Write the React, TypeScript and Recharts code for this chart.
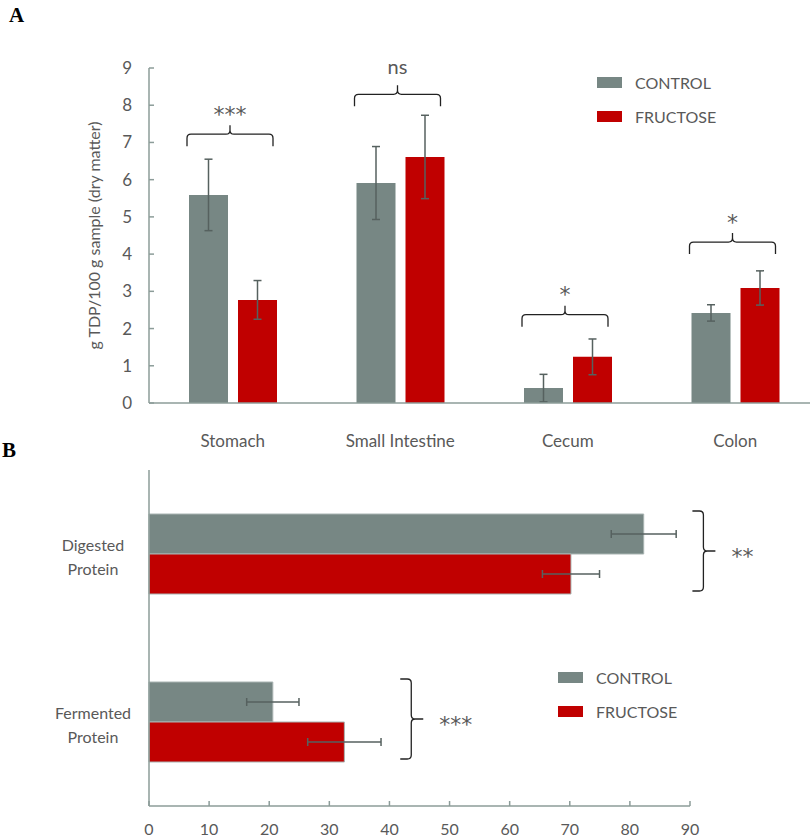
import React from "react";
import { Bar, BarChart, ErrorBar, Legend, Rectangle, XAxis, YAxis } from "recharts";

// panel A: TDP per gut segment
const regions = ["Stomach", "Small Intestine", "Cecum", "Colon"];
const controlA = [5.59, 5.91, 0.4, 2.42];
const controlErrA = [0.96, 0.98, 0.37, 0.22];
const fructoseA = [2.77, 6.61, 1.24, 3.09];
const fructoseErrA = [0.52, 1.12, 0.48, 0.46];
const braceA = [6.9, 7.97, 2.05, 4.0];
const markA = ["***", "ns", "*", "*"];
const ticksA = [0, 1, 2, 3, 4, 5, 6, 7, 8, 9];

// panel B: digested vs fermented protein
const proteins = ["Digested Protein", "Fermented Protein"];
const controlB = [82.3, 20.6];
const controlErrB = [5.4, 4.35];
const fructoseB = [70.2, 32.5];
const fructoseErrB = [4.75, 6.1];
const braceB = [90.4, 41.8];
const markB = ["**", "***"];
const ticksB = [0, 10, 20, 30, 40, 50, 60, 70, 80, 90];

const GREY = "#778784";
const RED = "#c00000";
const AXIS = "#8c9c99";
const ERR = "#56615f";
const TEXT = "#595959";
const FONT = "Lato, 'Open Sans', sans-serif";
const STAR_FONT = "'DejaVu Sans', sans-serif";

const dataA = regions.map((name, i) => ({
  name,
  control: controlA[i],
  controlErr: controlErrA[i],
  fructose: fructoseA[i],
  fructoseErr: fructoseErrA[i],
}));

const dataB = proteins.map((name, i) => ({
  name,
  control: controlB[i],
  controlErr: controlErrB[i],
  fructose: fructoseB[i],
  fructoseErr: fructoseErrB[i],
}));

function isStars(s: string) {
  return s.indexOf("*") >= 0;
}

// fructose bar of panel A, plus the brace over the pair
const FructoseWithBrace = (props: any) => {
  const { x, y, width, height, index } = props;
  const perUnit = height / fructoseA[index];
  const yb = y + height - braceA[index] * perUnit;
  const x1 = x - width - 10 - 2;
  const x2 = x + width - 4;
  const cx = (x1 + x2) / 2;
  const ym = yb - 12;
  const yp = ym - 9;
  const r = 4;
  const d =
    `M${x1},${yb} L${x1},${ym + r} Q${x1},${ym} ${x1 + r},${ym} ` +
    `L${cx - r},${ym} Q${cx},${ym} ${cx},${ym - r} L${cx},${yp} L${cx},${ym - r} ` +
    `Q${cx},${ym} ${cx + r},${ym} L${x2 - r},${ym} Q${x2},${ym} ${x2},${ym + r} L${x2},${yb}`;
  const mark = markA[index];
  const stars = isStars(mark);
  return (
    <g>
      <Rectangle {...props} />
      <path d={d} fill="none" stroke="#222" strokeWidth={1.3} />
      <text
        x={cx}
        y={stars ? yp - 3.5 : yp - 11.5}
        textAnchor="middle"
        fill={TEXT}
        fontSize={stars ? 22 : 20}
        fontFamily={stars ? STAR_FONT : FONT}
      >
        {mark}
      </text>
    </g>
  );
};

// control bar of panel B, plus the brace beside the pair
const ControlWithBrace = (props: any) => {
  const { x, y, width, height, index } = props;
  const perUnit = width / controlB[index];
  const x0 = x + braceB[index] * perUnit;
  const y1 = y - 3;
  const y2 = y + 2 * height - 3;
  const yc = (y1 + y2) / 2;
  const xm = x0 + 11;
  const xp = xm + 12;
  const r = 4;
  const d =
    `M${x0},${y1} L${xm - r},${y1} Q${xm},${y1} ${xm},${y1 + r} ` +
    `L${xm},${yc - r} Q${xm},${yc} ${xm + r},${yc} L${xp},${yc} L${xm + r},${yc} ` +
    `Q${xm},${yc} ${xm},${yc + r} L${xm},${y2 - r} Q${xm},${y2} ${xm - r},${y2} L${x0},${y2}`;
  return (
    <g>
      <Rectangle {...props} />
      <path d={d} fill="none" stroke="#222" strokeWidth={1.3} />
      <text x={xp + 16} y={yc + 13} fill={TEXT} fontSize={22} fontFamily={STAR_FONT}>
        {markB[index]}
      </text>
    </g>
  );
};

const LegendBoxes = ({ payload }: any) => (
  <div>
    {(payload || []).map((p: any) => (
      <div key={p.value} style={{ display: "flex", alignItems: "center", height: 34 }}>
        <span
          style={{ display: "inline-block", width: 25, height: 11, background: p.color, marginRight: 13 }}
        />
        <span style={{ color: TEXT, fontSize: 16 }}>{p.value}</span>
      </div>
    ))}
  </div>
);

const ProteinTick = ({ x, y, payload }: any) => {
  const [first, second] = String(payload.value).split(" ");
  const cx = x - 48;
  return (
    <text x={cx} y={y} textAnchor="middle" fill={TEXT} fontSize={16}>
      <tspan x={cx} dy={-3}>{first}</tspan>
      <tspan x={cx} dy={24}>{second}</tspan>
    </text>
  );
};

const panelLetter: React.CSSProperties = {
  position: "absolute",
  fontFamily: "'Liberation Serif', 'Times New Roman', serif",
  fontWeight: "bold",
  fontSize: 21,
  lineHeight: "21px",
  color: "#000",
};

export default function App() {
  return (
    <div
      style={{
        position: "absolute",
        left: 0,
        top: 0,
        width: 810,
        height: 839,
        overflow: "hidden",
        background: "#fff",
        fontFamily: FONT,
      }}
    >
      <div style={{ ...panelLetter, left: 9, top: 5 }}>A</div>
      <div style={{ ...panelLetter, left: 2, top: 440 }}>B</div>

      <div style={{ position: "absolute", left: 0, top: 0 }}>
        <BarChart
          width={820}
          height={465}
          data={dataA}
          margin={{ top: 68, right: 1, bottom: 0, left: 89 }}
          barCategoryGap={40}
          barGap={10}
        >
          <XAxis
            dataKey="name"
            interval={0}
            height={62}
            tickLine={false}
            tickSize={0}
            tickMargin={32}
            axisLine={{ stroke: AXIS, strokeWidth: 1.5 }}
            tick={{ fill: TEXT, fontSize: 17 }}
          />
          <YAxis
            domain={[0, 9]}
            ticks={ticksA}
            width={60}
            tickSize={-5}
            tickMargin={22}
            axisLine={{ stroke: AXIS, strokeWidth: 1.5 }}
            tickLine={{ stroke: AXIS, strokeWidth: 1.5 }}
            tick={{ fill: TEXT, fontSize: 17 }}
            label={{
              value: "g TDP/100 g sample (dry matter)",
              angle: -90,
              position: "insideLeft",
              offset: 5,
              style: { textAnchor: "middle", fill: TEXT, fontSize: 16 },
            }}
          />
          <Legend
            layout="vertical"
            align="center"
            verticalAlign="middle"
            content={<LegendBoxes />}
            wrapperStyle={{ top: 65, left: 597, width: "auto", height: "auto" }}
          />
          <Bar dataKey="control" name="CONTROL" fill={GREY} legendType="rect" isAnimationActive={false}>
            <ErrorBar dataKey="controlErr" direction="y" width={4} stroke={ERR} strokeWidth={1.5} isAnimationActive={false} />
          </Bar>
          <Bar
            dataKey="fructose"
            name="FRUCTOSE"
            fill={RED}
            legendType="rect"
            shape={FructoseWithBrace}
            isAnimationActive={false}
          >
            <ErrorBar dataKey="fructoseErr" direction="y" width={4} stroke={ERR} strokeWidth={1.5} isAnimationActive={false} />
          </Bar>
        </BarChart>
      </div>

      <div style={{ position: "absolute", left: 0, top: 460 }}>
        <BarChart
          layout="vertical"
          width={820}
          height={379}
          data={dataB}
          margin={{ top: 10, right: 130, bottom: 0, left: 0 }}
          barCategoryGap={44}
          barGap={0}
        >
          <XAxis
            type="number"
            domain={[0, 90]}
            ticks={ticksB}
            height={33}
            tickSize={-5}
            tickMargin={23}
            axisLine={{ stroke: AXIS, strokeWidth: 1.5 }}
            tickLine={{ stroke: AXIS, strokeWidth: 1.5 }}
            tick={{ fill: TEXT, fontSize: 16 }}
          />
          <YAxis
            type="category"
            dataKey="name"
            width={149}
            tickLine={false}
            axisLine={{ stroke: AXIS, strokeWidth: 1.5 }}
            tick={<ProteinTick />}
          />
          <Legend
            layout="vertical"
            align="center"
            verticalAlign="middle"
            content={<LegendBoxes />}
            wrapperStyle={{ top: 200, left: 558, width: "auto", height: "auto" }}
          />
          <Bar
            dataKey="control"
            name="CONTROL"
            fill={GREY}
            stroke="#a9b4b2"
            legendType="rect"
            shape={ControlWithBrace}
            isAnimationActive={false}
          >
            <ErrorBar dataKey="controlErr" direction="x" width={4} stroke={ERR} strokeWidth={1.5} isAnimationActive={false} />
          </Bar>
          <Bar dataKey="fructose" name="FRUCTOSE" fill={RED} stroke="#a9b4b2" legendType="rect" isAnimationActive={false}>
            <ErrorBar dataKey="fructoseErr" direction="x" width={4} stroke={ERR} strokeWidth={1.5} isAnimationActive={false} />
          </Bar>
        </BarChart>
      </div>
    </div>
  );
}
